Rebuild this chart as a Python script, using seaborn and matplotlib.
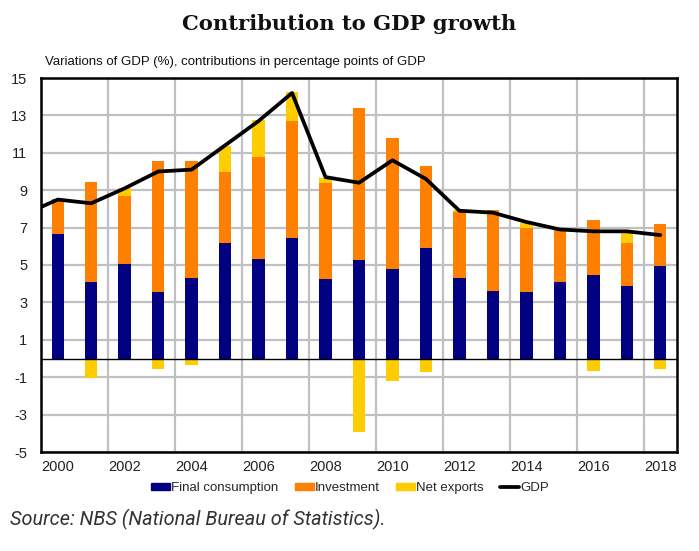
import matplotlib
matplotlib.use("Agg")
import matplotlib.pyplot as plt
import seaborn as sns
import numpy as np
import pandas as pd
from matplotlib.ticker import FixedLocator
from matplotlib.patches import Patch
from matplotlib.lines import Line2D

years = list(range(2000, 2019))
consumption = [6.64, 4.07, 5.07, 3.54, 4.29, 6.19, 5.34, 6.44, 4.25, 5.25,
               4.77, 5.89, 4.32, 3.63, 3.57, 4.11, 4.48, 3.88, 4.96]
investment = [1.87, 5.35, 3.62, 7.04, 6.25, 3.77, 5.44, 6.26, 5.15, 8.15,
              7.04, 4.40, 3.53, 4.29, 3.39, 2.76, 2.93, 2.31, 2.23]
net_exports = [0.0, -1.06, 0.44, -0.54, -0.37, 1.42, 1.96, 1.55, 0.27, -3.95,
               -1.20, -0.74, 0.09, -0.10, 0.27, -0.05, -0.67, 0.59, -0.56]
gdp_years = list(range(1999, 2019))
gdp = [7.7, 8.5, 8.3, 9.1, 10.0, 10.1, 11.4, 12.7, 14.2, 9.7, 9.4,
       10.6, 9.6, 7.9, 7.8, 7.3, 6.9, 6.8, 6.8, 6.6]

C_BLUE = "#000080"
C_ORANGE = "#FF7F00"
C_YELLOW = "#FFCC00"

sns.set_theme(style="white")
narrow = ["Liberation Sans Narrow", "Liberation Sans", "DejaVu Sans"]
plt.rcParams["font.family"] = narrow

df = pd.DataFrame({
    "year": [str(y) for y in years],
    "cons": consumption,
    "inv": investment,
    "nx": net_exports,
})
df["ci"] = df["cons"] + df["inv"]
df["top"] = df["ci"] + df["nx"].clip(lower=0)
df["neg"] = df["nx"].clip(upper=0)

fig = plt.figure(figsize=(6.99, 5.51), dpi=100)
ax = fig.add_axes([41 / 699, 1 - 452 / 551, 636 / 699, 374 / 551])

bw = 0.37
order = df["year"].tolist()
sns.barplot(data=df, x="year", y="top", color=C_YELLOW, width=bw, order=order,
            saturation=1, ax=ax, zorder=3)
sns.barplot(data=df, x="year", y="ci", color=C_ORANGE, width=bw, order=order,
            saturation=1, ax=ax, zorder=3)
sns.barplot(data=df, x="year", y="cons", color=C_BLUE, width=bw, order=order,
            saturation=1, ax=ax, zorder=3)
sns.barplot(data=df, x="year", y="neg", color=C_YELLOW, width=bw, order=order,
            saturation=1, ax=ax, zorder=3)
for p in ax.patches:
    p.set_linewidth(0)

gx = [y - 2000 for y in gdp_years]
sns.lineplot(x=gx, y=gdp, color="black", linewidth=2.7, ax=ax, zorder=5,
             sort=False)

ax.set_xlim(-0.5, len(years) - 0.5)
ax.set_ylim(-5, 15)
ax.axhline(0, color="black", linewidth=1.0, zorder=4)

ax.yaxis.set_major_locator(FixedLocator(list(range(-5, 16, 2))))
ax.set_yticklabels([str(v) for v in range(-5, 16, 2)])
ax.xaxis.set_major_locator(FixedLocator(list(range(0, 19, 2))))
ax.set_xticklabels([str(y) for y in years[::2]])
ax.xaxis.set_minor_locator(FixedLocator([i + 0.5 for i in range(1, 18, 2)]))
ax.grid(axis="y", which="major", color="#C0C0C0", linewidth=1.6, zorder=0)
ax.grid(axis="x", which="minor", color="#C0C0C0", linewidth=1.6, zorder=0)
ax.set_axisbelow(True)
ax.tick_params(axis="both", which="both", length=0, labelsize=10.5, colors="#222222")
ax.tick_params(axis="x", pad=6)
ax.tick_params(axis="y", pad=10)
ax.set_xlabel("")
ax.set_ylabel("")
for s in ax.spines.values():
    s.set_visible(True)
    s.set_color("black")
    s.set_linewidth(1.8)
    s.set_zorder(6)

fig.text(349 / 699, 1 - 24 / 551, "Contribution to GDP growth",
         ha="center", va="center", fontsize=15.2, fontweight="bold",
         family=["DejaVu Serif"], color="#111111")
fig.text(45 / 699, 1 - 62 / 551,
         "Variations of GDP (%), contributions in percentage points of GDP",
         ha="left", va="center", fontsize=9.5, color="#111111")

handles = [Patch(color=C_BLUE), Patch(color=C_ORANGE), Patch(color=C_YELLOW),
           Line2D([0], [0], color="black", linewidth=2.7)]
labels = ["Final consumption", "Investment", "Net exports", "GDP"]
fig.legend(handles, labels, loc="center", bbox_to_anchor=(350 / 699, 1 - 488 / 551),
           ncol=4, frameon=False, fontsize=9.5, handlelength=1.45,
           handleheight=0.4, handletextpad=0.1, columnspacing=1.2)

fig.text(10 / 699, 1 - 519 / 551, "Source: NBS (National Bureau of Statistics).",
         ha="left", va="center", fontsize=14.3, style="italic", fontweight="normal",
         family=["Roboto", "DejaVu Sans"], color="#333333")

fig.savefig("out.png", dpi=100)
